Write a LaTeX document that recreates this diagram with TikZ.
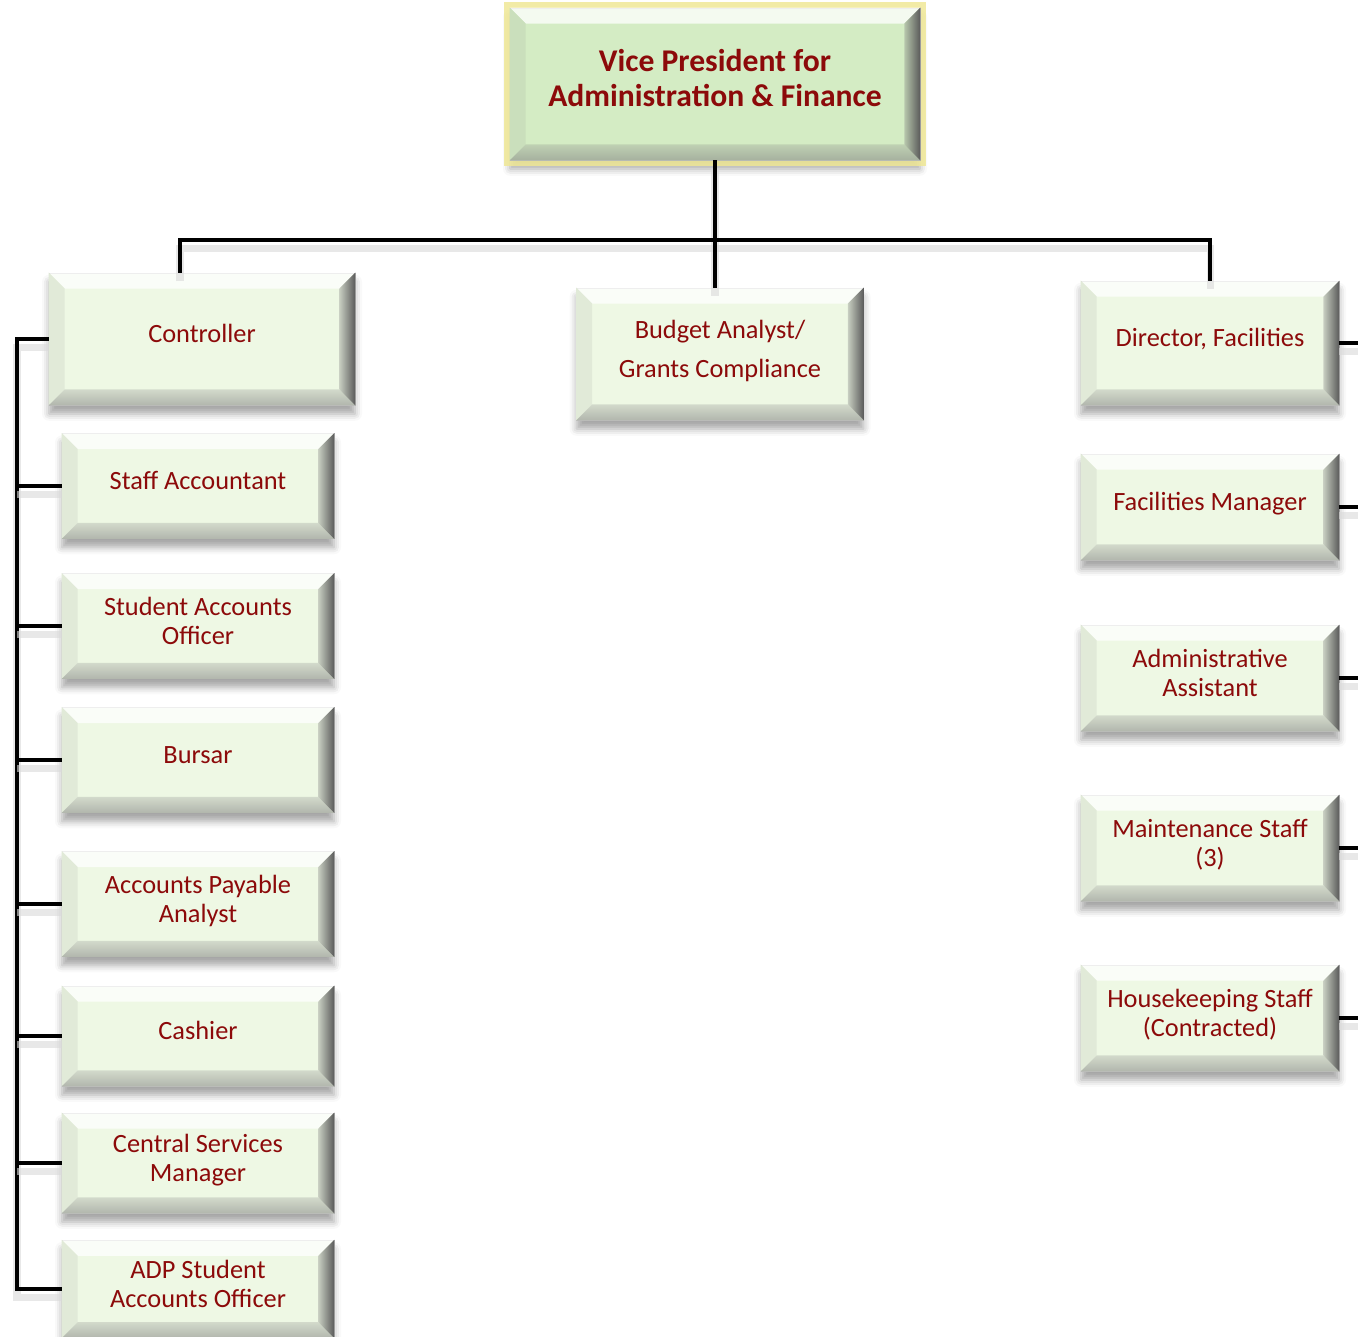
\documentclass[tikz,border=0pt]{standalone}
\usepackage{fontspec}
\setmainfont{Carlito}
\usetikzlibrary{shadows.blur}

\definecolor{boxgreen}{RGB}{238,248,228}
\definecolor{vpgreen}{RGB}{212,236,196}
\definecolor{darkred}{RGB}{140,10,10}
\definecolor{glow}{RGB}{240,232,150}

% bevelled edges on a box: node name, body colour
\newcommand{\boxbevel}[2]{%
  \fill[white, opacity=0.75] (#1.north west) -- (#1.north east) -- ([shift={(-0.32cm,-0.32cm)}]#1.north east) -- ([shift={(0.32cm,-0.32cm)}]#1.north west) -- cycle;
  \fill[#2!88!gray] (#1.north west) -- ([shift={(0.32cm,-0.32cm)}]#1.north west) -- ([shift={(0.32cm,0.32cm)}]#1.south west) -- (#1.south west) -- cycle;
  \shade[top color=#2!75!gray, bottom color=#2!45!gray] (#1.south west) -- ([shift={(0.32cm,0.32cm)}]#1.south west) -- ([shift={(-0.32cm,0.32cm)}]#1.south east) -- (#1.south east) -- cycle;
  \shade[left color=#2!65!gray, right color=black!65] (#1.north east) -- (#1.south east) -- ([shift={(-0.32cm,0.32cm)}]#1.south east) -- ([shift={(-0.32cm,-0.32cm)}]#1.north east) -- cycle;
}

\begin{document}
\begin{tikzpicture}[x=0.02cm, y=-0.02cm,
  post/.style={fill=boxgreen, draw=gray!50, thin, text=darkred, align=center, inner sep=0pt,
    text depth=6pt, font=\fontsize{15}{16.5}\selectfont,
    blur shadow={shadow xshift=0pt, shadow yshift=-5pt, shadow blur radius=4pt, shadow opacity=35}},
  head/.style={post, fill=vpgreen, preaction={draw=glow, line width=6.5pt, opacity=0.85}, minimum width=8.2cm, minimum height=3.04cm,
    text depth=7pt, font=\bfseries\fontsize{18}{20}\selectfont},
  leftpost/.style={post, minimum width=5.44cm, minimum height=2.1cm},
  rightpost/.style={post, minimum width=5.16cm, minimum height=2.12cm},
  conn/.style={draw=black, line width=2pt,
    preaction={draw=black!15, line width=4pt, opacity=0.6, transform canvas={yshift=-5pt}}}
]
\useasboundingbox (0,0) rectangle (1358,1337);

% top
\node[head] (vp) at (715,84) {Vice President for\\Administration \& Finance};

% second row
\node[post, minimum width=6.12cm, minimum height=2.64cm] (ctrl) at (202,339) {Controller};
\node[post, minimum width=5.74cm, minimum height=2.64cm] (budget) at (720,354) {Budget Analyst/\\[6pt]Grants Compliance};
\node[post, minimum width=5.16cm, minimum height=2.48cm] (dir) at (1210,343) {Director, Facilities};

% controller column
\node[leftpost] (staff) at (198,486) {Staff Accountant};
\node[leftpost] (stuacct) at (198,626) {Student Accounts\\Officer};
\node[leftpost] (bursar) at (198,760) {Bursar};
\node[leftpost] (payable) at (198,904) {Accounts Payable\\Analyst};
\node[leftpost, minimum height=2.0cm] (cashier) at (198,1036) {Cashier};
\node[leftpost, minimum height=2.0cm] (central) at (198,1163) {Central Services\\Manager};
\node[leftpost, minimum height=1.95cm] (adp) at (198,1289) {ADP Student\\Accounts Officer};

% facilities column
\node[rightpost] (facman) at (1210,507) {Facilities Manager};
\node[rightpost] (admin) at (1210,678) {Administrative\\Assistant};
\node[rightpost] (maint) at (1210,848) {Maintenance Staff\\(3)};
\node[rightpost] (house) at (1210,1018) {Housekeeping Staff\\(Contracted)};

\boxbevel{vp}{vpgreen}
\foreach \n in {ctrl, budget, dir, staff, stuacct, bursar, payable, cashier, central, adp, facman, admin, maint, house}
  \boxbevel{\n}{boxgreen};

% connectors
\coordinate (bus) at (715,240);
\coordinate (trunk) at (17,0);
\coordinate (rim) at (1362,0);

\draw[conn] (vp.south) -- (bus);
\draw[conn] ([xshift=-0.44cm]ctrl.north) |- (bus) -| (dir.north);
\draw[conn] (bus) -- (bus |- budget.north);

\draw[conn] (ctrl.west) -- (ctrl.west -| trunk) -- (adp.west -| trunk) -- (adp.west);
\foreach \n in {staff, stuacct, bursar, payable, cashier, central}
  \draw[conn] (\n.west -| trunk) -- (\n.west);

\foreach \n in {dir, facman, admin, maint, house}
  \draw[conn] (\n.east) -- (\n.east -| rim);

\end{tikzpicture}
\end{document}
